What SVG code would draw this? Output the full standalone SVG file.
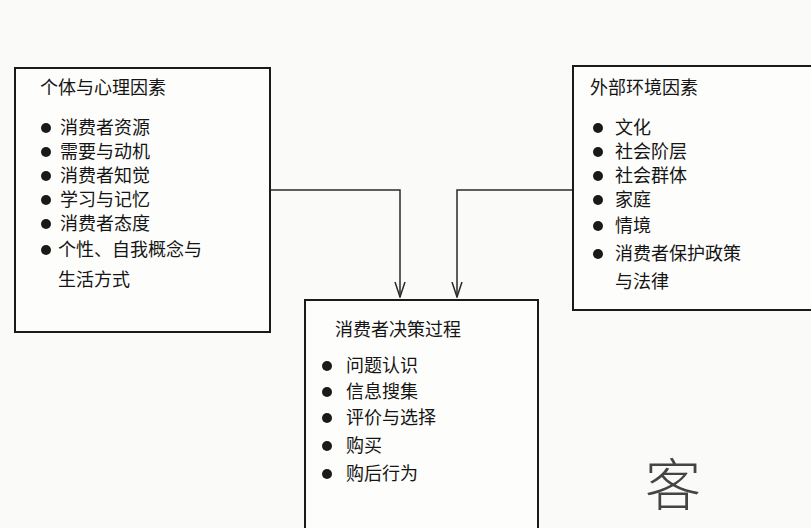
<svg xmlns="http://www.w3.org/2000/svg" width="811" height="528" viewBox="0 0 811 528">
<style>
.box{fill:#fdfdfb;stroke:#1a1a1a;stroke-width:2}
text{font-family:"Noto Sans CJK SC","Noto Sans",sans-serif;font-size:18px;fill:#151515}
.b{fill:#1a1a1a}
.c{fill:none;stroke:#2a2a2a;stroke-width:1.5}
</style>
<defs><marker id="a" markerWidth="16" markerHeight="12" refX="15" refY="6" orient="auto" markerUnits="userSpaceOnUse"><path d="M0,1 L15,6 L0,11" fill="none" stroke="#2a2a2a" stroke-width="1.5"/></marker></defs>
<rect width="811" height="528" fill="#fafaf8"/>
<g id="connectors">
<path class="c" d="M270,190 H400 V297" marker-end="url(#a)"/>
<path class="c" d="M573,190 H457 V297" marker-end="url(#a)"/>
</g>
<g id="left">
<rect class="box" x="15" y="68" width="255" height="264"/>
<text x="40" y="94">个体与心理因素</text>
<circle class="b" cx="46" cy="128" r="5"/><text x="60" y="134">消费者资源</text>
<circle class="b" cx="46" cy="152" r="5"/><text x="60" y="158">需要与动机</text>
<circle class="b" cx="46" cy="176" r="5"/><text x="60" y="182">消费者知觉</text>
<circle class="b" cx="46" cy="200" r="5"/><text x="60" y="206">学习与记忆</text>
<circle class="b" cx="46" cy="224" r="5"/><text x="60" y="230">消费者态度</text>
<circle class="b" cx="46" cy="250" r="5"/><text x="58" y="256">个性、自我概念与</text>
<text x="58" y="286">生活方式</text>
</g>
<g id="right">
<rect class="box" x="573" y="66" width="245" height="244"/>
<text x="590" y="94">外部环境因素</text>
<circle class="b" cx="598" cy="128" r="5"/><text x="615" y="134">文化</text>
<circle class="b" cx="598" cy="152" r="5"/><text x="615" y="158">社会阶层</text>
<circle class="b" cx="598" cy="176" r="5"/><text x="615" y="182">社会群体</text>
<circle class="b" cx="598" cy="200" r="5"/><text x="615" y="206">家庭</text>
<circle class="b" cx="598" cy="226" r="5"/><text x="615" y="232">情境</text>
<circle class="b" cx="598" cy="254" r="5"/><text x="615" y="260">消费者保护政策</text>
<text x="615" y="288">与法律</text>
</g>
<g id="bottom">
<rect class="box" x="305" y="300" width="233" height="240"/>
<text x="335" y="336">消费者决策过程</text>
<circle class="b" cx="327" cy="366" r="5"/><text x="346" y="372">问题认识</text>
<circle class="b" cx="327" cy="392" r="5"/><text x="346" y="398">信息搜集</text>
<circle class="b" cx="327" cy="418" r="5"/><text x="346" y="424">评价与选择</text>
<circle class="b" cx="327" cy="446" r="5"/><text x="346" y="452">购买</text>
<circle class="b" cx="327" cy="474" r="5"/><text x="346" y="480">购后行为</text>
</g>
<text x="645" y="505" style="font-size:56px;fill:#444;font-weight:200">客</text>
</svg>
